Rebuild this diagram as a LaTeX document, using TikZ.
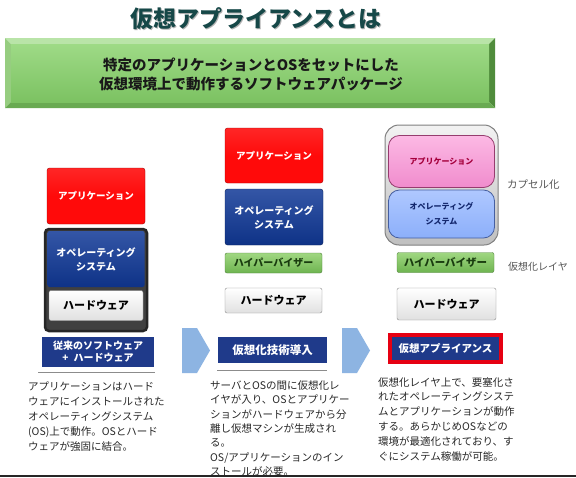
\documentclass[tikz,border=0pt]{standalone}
\usepackage{fontspec}
\setmainfont{Noto Sans CJK JP}
\definecolor{titlecol}{RGB}{22,72,72}
\definecolor{appred}{RGB}{255,10,10}
\definecolor{osblue}{RGB}{16,56,150}
\definecolor{lblblue}{RGB}{31,58,138}
\definecolor{arrowblue}{RGB}{141,180,226}
\definecolor{txtgray}{RGB}{40,40,40}
\definecolor{sidegray}{RGB}{85,85,85}
\definecolor{bevtop}{RGB}{185,228,168}
\definecolor{bevleft}{RGB}{150,205,128}
\definecolor{bevright}{RGB}{80,140,60}
\definecolor{bevbot}{RGB}{105,170,82}
\definecolor{bantop}{RGB}{158,218,134}
\definecolor{banbot}{RGB}{124,194,98}
\definecolor{hvtop}{RGB}{160,215,130}
\definecolor{hvbot}{RGB}{110,180,80}
\definecolor{hvtext}{RGB}{25,60,15}
\definecolor{hvdraw}{RGB}{80,130,60}
\definecolor{pinkdraw}{RGB}{150,60,110}
\definecolor{pinktop}{RGB}{252,185,228}
\definecolor{pinkbot}{RGB}{240,140,205}
\definecolor{pinktext}{RGB}{165,0,60}
\definecolor{lbdraw}{RGB}{70,95,160}
\definecolor{lbtop}{RGB}{175,200,255}
\definecolor{lbbot}{RGB}{140,175,250}
\definecolor{lbtext}{RGB}{20,40,110}
\definecolor{borderred}{RGB}{230,0,18}
\tikzset{
  base/.style={inner sep=0pt, align=center, font=\bfseries\fontsize{9.5}{12}\selectfont},
  appbox/.style={base, rounded corners=2.5pt, draw=red!65!black, top color=red!85!white, bottom color=appred, middle color=appred, text=white},
  osbox/.style={base, rounded corners=2.5pt, draw=osblue!60!black, top color=osblue!85!white, bottom color=osblue!90!black, text=white, font=\bfseries\fontsize{10}{14}\selectfont},
  hvbox/.style={base, rounded corners=2pt, draw=hvdraw, top color=hvtop, bottom color=hvbot, text=hvtext, font=\bfseries\fontsize{10}{12}\selectfont},
  hwbox/.style={base, rounded corners=2pt, draw=black!45, top color=white, bottom color=black!12, text=black, font=\bfseries\fontsize{11}{13}\selectfont},
  lblbox/.style={base, fill=lblblue, text=white, font=\bfseries\fontsize{10}{12}\selectfont},
  para/.style={inner sep=0pt, anchor=north west, align=left, text=txtgray, font=\fontsize{10.5}{15}\selectfont},
  sidelbl/.style={inner sep=0pt, anchor=west, text=sidegray, font=\fontsize{10}{12}\selectfont},
  chevron/.style={fill=arrowblue, draw=none},
  sepline/.style={draw=black!45, line width=0.6pt}
}
\begin{document}
\begin{tikzpicture}[x=1pt,y=-1pt]
\useasboundingbox (0,0) rectangle (576,477);
\fill[white] (0,0) rectangle (576,477);

% title
\node[inner sep=0pt, text=black!30, font=\bfseries\fontsize{23}{26}\selectfont] at (257,20) {仮想アプライアンスとは};
\node[inner sep=0pt, text=titlecol, font=\bfseries\fontsize{23}{26}\selectfont] (title) at (256,19) {仮想アプライアンスとは};

% banner with bevel
\fill[bevtop] (5,38) -- (495,38) -- (489,44) -- (11,44) -- cycle;
\fill[bevleft] (5,38) -- (11,44) -- (11,102) -- (5,108) -- cycle;
\fill[bevright] (495,38) -- (489,44) -- (489,102) -- (495,108) -- cycle;
\fill[bevbot] (5,108) -- (11,102) -- (489,102) -- (495,108) -- cycle;
\shade[top color=bantop, bottom color=banbot] (11,44) rectangle (489,102);
\node[inner sep=0pt, align=center, text=black!90, font=\bfseries\fontsize{14.5}{19}\selectfont] (banner) at (251,74.5) {特定のアプリケーションとOSをセットにした\\仮想環境上で動作するソフトウェアパッケージ};

% column 1
\node[appbox, minimum width=98pt, minimum height=56pt] (app1) at (96,196) {アプリケーション};
\node[draw=black!85, line width=2.5pt, rounded corners=4pt, fill=black!75, minimum width=102pt, minimum height=102pt, inner sep=0pt] (cont1) at (96,280) {};
\node[osbox, draw=none, rounded corners=2pt, minimum width=97pt, minimum height=56pt] (os1) at (96,259) {オペレーティング\\システム};
\node[hwbox, minimum width=94pt, minimum height=30pt] (hw1) at (96,305.5) {ハードウェア};
\node[lblbox, minimum width=112pt, minimum height=30pt] (lbl1) at (98,352) {従来のソフトウェア\\+\hspace{0.5em}ハードウェア};
\coordinate (s1a) at (38,372); \coordinate (s1b) at (155,372);
\draw[sepline] (s1a) -- (s1b);
\node[para] (p1) at (28,382) {アプリケーションはハード\\ウェアにインストールされた\\オペレーティングシステム\\(OS)上で動作。OSとハード\\ウェアが強固に結合。};

% arrow 1
\fill[chevron] (182,328) -- (197,328) -- (210,350.5) -- (197,373) -- (182,373) -- cycle;

% column 2
\node[appbox, minimum width=98pt, minimum height=55pt] (app2) at (274,155.5) {アプリケーション};
\node[osbox, minimum width=98pt, minimum height=56pt] (os2) at (274,217) {オペレーティング\\システム};
\node[hvbox, minimum width=97pt, minimum height=20pt] (hv2) at (273.5,263) {ハイパーバイザー};
\node[hwbox, minimum width=97pt, minimum height=25pt] (hw2) at (273.5,300.5) {ハードウェア};
\node[lblbox, minimum width=109pt, minimum height=26pt, font=\bfseries\fontsize{11.5}{13}\selectfont] (lbl2) at (272.5,350) {仮想化技術導入};
\coordinate (s2a) at (217,370); \coordinate (s2b) at (327,370);
\draw[sepline] (s2a) -- (s2b);
\node[para, font=\fontsize{10.5}{14.3}\selectfont] (p2) at (210,380.5) {サーバとOSの間に仮想化レ\\イヤが入り、OSとアプリケー\\ションがハードウェアから分\\離し仮想マシンが生成され\\る。\\OS/アプリケーションのイン\\ストールが必要。};

% arrow 2
\fill[chevron] (342,328) -- (357,328) -- (370,350.5) -- (357,373) -- (342,373) -- cycle;

% column 3
\node[draw=black!50, line width=1pt, rounded corners=14pt, top color=black!5, bottom color=black!25, minimum width=113pt, minimum height=120pt, inner sep=0pt] (cap) at (441.5,185) {};
\node[base, draw=pinkdraw, line width=0.8pt, rounded corners=11pt, top color=pinktop, bottom color=pinkbot, text=pinktext, font=\bfseries\fontsize{8}{10}\selectfont, minimum width=106pt, minimum height=52pt] (app3) at (441.5,161.5) {アプリケーション};
\node[base, draw=lbdraw, line width=0.8pt, rounded corners=11pt, top color=lbtop, bottom color=lbbot, text=lbtext, font=\bfseries\fontsize{8}{15}\selectfont, minimum width=106pt, minimum height=48pt] (os3) at (441.5,214) {オペレーティング\\システム};
\node[sidelbl, font=\fontsize{10.5}{12}\selectfont] (capl) at (507,185) {カプセル化};
\node[hvbox, minimum width=97pt, minimum height=20pt, font=\bfseries\fontsize{10.5}{12}\selectfont] (hv3) at (445.5,262.5) {ハイパーバイザー};
\node[sidelbl] (hvl) at (508,267) {仮想化レイヤ};
\node[hwbox, minimum width=99pt, minimum height=32pt] (hw3) at (446.5,304) {ハードウェア};
\node[lblbox, draw=borderred, line width=4pt, minimum width=111pt, minimum height=27pt, font=\bfseries\fontsize{10.5}{12}\selectfont] (lbl3) at (445.5,348.5) {仮想アプライアンス};
\node[para, font=\fontsize{10.5}{14.9}\selectfont] (p3) at (378,377) {仮想化レイヤ上で、要塞化さ\\れたオペレーティングシステ\\ムとアプリケーションが動作\\する。あらかじめOSなどの\\環境が最適化されており、す\\ぐにシステム稼働が可能。};

% bottom rule
\coordinate (bl) at (0,476.2); \coordinate (br) at (576,476.2);
\draw[black!85, line width=1.6pt] (bl) -- (br);
\end{tikzpicture}
\end{document}
